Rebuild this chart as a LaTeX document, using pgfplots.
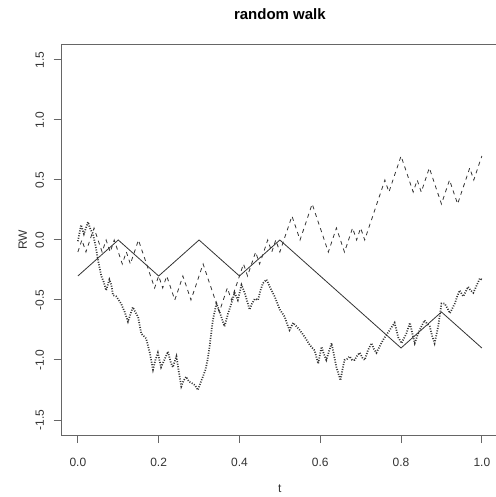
\documentclass[border=0pt]{standalone}
\usepackage{pgfplots}
\pgfplotsset{compat=1.18}
\usepackage{pgfplotstable}
\usepackage{fontspec}
\setmainfont{Liberation Sans}

\pgfplotstableread{
t v
0.0 -0.3
0.1 0.0
0.2 -0.3
0.3 0.0
0.4 -0.3
0.5 0.0
0.6 -0.3
0.7 -0.6
0.8 -0.9
0.9 -0.6
1.0 -0.9
}\solidtab

\pgfplotstableread{
t v
0.00 -0.1
0.01 0.0
0.02 -0.1
0.03 0.0
0.04 0.1
0.05 0.0
0.06 -0.1
0.07 0.0
0.08 -0.1
0.09 0.0
0.10 -0.1
0.11 -0.2
0.12 -0.1
0.13 -0.2
0.14 -0.1
0.15 0.0
0.16 -0.1
0.17 -0.2
0.18 -0.3
0.19 -0.4
0.20 -0.3
0.21 -0.4
0.22 -0.3
0.23 -0.4
0.24 -0.5
0.25 -0.4
0.26 -0.3
0.27 -0.4
0.28 -0.5
0.29 -0.4
0.30 -0.3
0.31 -0.2
0.32 -0.3
0.33 -0.4
0.34 -0.5
0.35 -0.6
0.36 -0.5
0.37 -0.4
0.38 -0.5
0.39 -0.4
0.40 -0.3
0.41 -0.2
0.42 -0.3
0.43 -0.2
0.44 -0.1
0.45 -0.2
0.46 -0.1
0.47 0.0
0.48 -0.1
0.49 0.0
0.50 -0.1
0.51 0.0
0.52 0.1
0.53 0.2
0.54 0.1
0.55 0.0
0.56 0.1
0.57 0.2
0.58 0.3
0.59 0.2
0.60 0.1
0.61 0.0
0.62 -0.1
0.63 0.0
0.64 0.1
0.65 0.0
0.66 -0.1
0.67 0.0
0.68 0.1
0.69 0.0
0.70 0.1
0.71 0.0
0.72 0.1
0.73 0.2
0.74 0.3
0.75 0.4
0.76 0.5
0.77 0.4
0.78 0.5
0.79 0.6
0.80 0.7
0.81 0.6
0.82 0.5
0.83 0.4
0.84 0.5
0.85 0.4
0.86 0.5
0.87 0.6
0.88 0.5
0.89 0.4
0.90 0.3
0.91 0.4
0.92 0.5
0.93 0.4
0.94 0.3
0.95 0.4
0.96 0.5
0.97 0.6
0.98 0.5
0.99 0.6
1.00 0.7
}\dashtab

\pgfplotstableread{
t v
0.000 -0.01
0.008 0.125
0.015 0.05
0.025 0.15
0.031 0.09
0.037 0.055
0.044 -0.05
0.050 -0.17
0.058 -0.30
0.064 -0.35
0.070 -0.42
0.078 -0.33
0.083 -0.375
0.087 -0.46
0.095 -0.47
0.107 -0.53
0.116 -0.60
0.124 -0.68
0.130 -0.62
0.136 -0.56
0.142 -0.60
0.149 -0.64
0.157 -0.78
0.163 -0.80
0.169 -0.82
0.178 -0.94
0.186 -1.08
0.192 -1.00
0.198 -0.94
0.206 -1.06
0.214 -1.00
0.223 -0.93
0.230 -1.02
0.235 -1.06
0.244 -0.97
0.250 -1.10
0.256 -1.22
0.262 -1.17
0.268 -1.14
0.275 -1.18
0.281 -1.19
0.290 -1.21
0.297 -1.25
0.306 -1.17
0.316 -1.08
0.321 -1.00
0.326 -0.89
0.334 -0.67
0.343 -0.53
0.349 -0.58
0.355 -0.64
0.363 -0.72
0.372 -0.61
0.380 -0.53
0.388 -0.44
0.396 -0.50
0.405 -0.375
0.413 -0.44
0.420 -0.52
0.425 -0.58
0.431 -0.53
0.438 -0.49
0.446 -0.50
0.452 -0.42
0.458 -0.36
0.467 -0.33
0.475 -0.39
0.487 -0.47
0.500 -0.58
0.506 -0.61
0.512 -0.64
0.518 -0.70
0.524 -0.75
0.533 -0.69
0.541 -0.72
0.549 -0.75
0.562 -0.81
0.574 -0.875
0.586 -0.92
0.595 -1.03
0.603 -0.89
0.609 -0.95
0.615 -1.00
0.628 -0.86
0.634 -0.96
0.640 -1.06
0.650 -1.17
0.655 -1.08
0.660 -1.00
0.667 -0.99
0.673 -0.97
0.679 -1.00
0.685 -1.00
0.692 -0.96
0.698 -0.94
0.704 -0.98
0.710 -1.00
0.718 -0.92
0.727 -0.86
0.733 -0.91
0.739 -0.94
0.748 -0.88
0.756 -0.83
0.764 -0.79
0.772 -0.75
0.778 -0.72
0.784 -0.69
0.793 -0.81
0.801 -0.86
0.807 -0.82
0.813 -0.78
0.822 -0.69
0.828 -0.78
0.834 -0.86
0.840 -0.80
0.846 -0.75
0.852 -0.71
0.858 -0.67
0.865 -0.70
0.871 -0.72
0.877 -0.80
0.883 -0.86
0.892 -0.72
0.900 -0.53
0.908 -0.53
0.915 -0.57
0.921 -0.61
0.927 -0.57
0.933 -0.53
0.939 -0.47
0.945 -0.42
0.954 -0.47
0.960 -0.43
0.966 -0.39
0.972 -0.42
0.979 -0.44
0.987 -0.38
0.995 -0.32
1.000 -0.33
}\dottab

\begin{document}
\begin{tikzpicture}
\begin{axis}[
  name=ax,
  scale only axis,
  width=436.3pt, height=390pt,
  xmin=-0.04, xmax=1.04,
  ymin=-1.625, ymax=1.625,
  axis line style={black!60, line width=1pt},
  tick pos=left,
  tick align=outside,
  major tick length=8pt,
  tick style={black!60, line width=1pt},
  xtick={0,0.2,0.4,0.6,0.8,1.0},
  ytick={-1.5,-1,-0.5,0,0.5,1,1.5},
  xticklabels={0.0,0.2,0.4,0.6,0.8,1.0},
  yticklabels={-1.5,-1.0,-0.5,0.0,0.5,1.0,1.5},
  xticklabel style={anchor=center, inner sep=0pt, yshift=-19pt, font=\fontsize{12}{14}\selectfont, text=black!80},
  yticklabel style={anchor=center, inner sep=0pt, xshift=-14pt, rotate=90, font=\fontsize{12}{14}\selectfont, text=black!80},
  title={random walk},
  title style={at={(axis description cs:0.5,1)}, anchor=center, yshift=24.5pt, font=\fontsize{15}{18}\selectfont\bfseries},
  xlabel={t},
  every axis x label/.style={at={(axis description cs:0.5,0)}, anchor=center, yshift=-54pt, font=\fontsize{12}{14}\selectfont, text=black!80},
  ylabel={RW},
  every axis y label/.style={at={(axis description cs:0,0.5)}, anchor=center, xshift=-39pt, rotate=90, font=\fontsize{12}{14}\selectfont, text=black!80},
  clip=false,
]
\addplot[black!80, line width=0.8pt] table[x=t, y=v] {\solidtab};
\addplot[black!80, line width=0.8pt, dash pattern=on 4pt off 4pt] table[x=t, y=v] {\dashtab};
\addplot[black!80, line width=1.7pt, dash pattern=on 1pt off 1.5pt] table[x=t, y=v] {\dottab};
\end{axis}
\pgfresetboundingbox
\useasboundingbox ([xshift=-61.7pt, yshift=-62pt]ax.south west) rectangle ([xshift=433.3pt, yshift=435pt]ax.south west);
\end{tikzpicture}
\end{document}
